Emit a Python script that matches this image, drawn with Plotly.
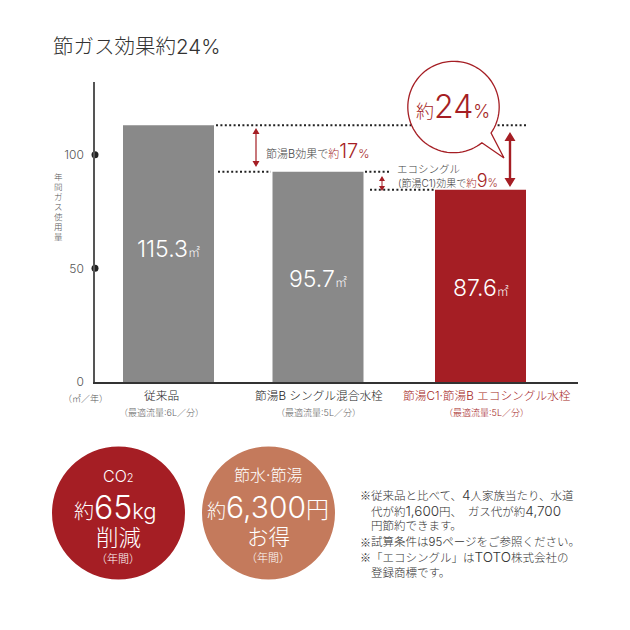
import numpy as np
import plotly.graph_objects as go

# bars, heights as read against the drawn axis (the printed labels differ a little)
categories = ["従来品", "節湯B シングル混合水栓", "節湯C1·節湯B エコシングル水栓"]
bar_heights = [113.0, 92.5, 84.6]
bar_values = ["115.3", "95.7", "87.6"]
flow_labels = ["（最適流量:6L／分）", "（最適流量:5L／分）", "（最適流量:5L／分）"]
y_ticks = [0, 50, 100]

note_lines = [
    "従来品と比べて、<D>4</D>人家族当たり、水道",
    "代が約<D>1,600</D>円、　ガス代が約<D>4,700</D>",
    "円節約できます。",
    "試算条件は95ページをご参照ください。",
    "「エコシングル」は<D>TOTO</D>株式会社の",
    "登録商標です。",
]
note_marks = [True, False, False, True, True, False]

SIZE = 630
PAGE_H = 623  # the photographed page comes out about 1% short, so y is scaled to suit
RED = "#A51E24"
GREY = "#898989"
TERRA = "#C47A5C"
TXT = "#444444"
FONT = "Inter, Noto Sans CJK JP, sans-serif"
FONT_JP = "Noto Sans CJK JP, sans-serif"

bar_x = [168.5, 318, 480.5]
bar_colors = [GREY, GREY, RED]
bar_label_y = [249, 279, 288]
label_x = [162, 318.5, 486.5]
label_colors = ["#222222", "#222222", RED]
flow_colors = ["#666666", "#666666", RED]


def px(x):
    return x / SIZE


def py(y):
    return 1 - y / PAGE_H


def span(text, size, color):
    return f'<span style="font-size:{size}px;color:{color}">{text}</span>'


annotations = []


def note(text, x, y, size=10, color=TXT, anchor="center", family=FONT):
    annotations.append(dict(text=text, x=px(x), y=py(y), xref="paper", yref="paper",
                            xanchor=anchor, yanchor="middle", showarrow=False,
                            font=dict(size=size, color=color, family=family, weight=300)))


def double_arrow(x, y0, y1, head_w, head_l, shaft):
    # closed outline of a two-headed vertical arrow
    pts = [(x, y0), (x + head_w, y0 + head_l), (x + shaft, y0 + head_l), (x + shaft, y1 - head_l),
           (x + head_w, y1 - head_l), (x, y1), (x - head_w, y1 - head_l), (x - shaft, y1 - head_l),
           (x - shaft, y0 + head_l), (x - head_w, y0 + head_l)]
    path = "M " + " L ".join(f"{px(a):.5f},{py(b):.5f}" for a, b in pts) + " Z"
    return dict(type="path", path=path, xref="paper", yref="paper", fillcolor=RED, line=dict(width=0))


def dotted(x0, x1, value):
    return dict(type="line", xref="paper", yref="y", x0=px(x0), x1=px(x1), y0=value, y1=value,
                line=dict(color="#222222", width=2, dash="2px,2.4px"))


def big_circle(cx, cy, r, color):
    return dict(type="circle", xref="paper", yref="paper", x0=px(cx - r), x1=px(cx + r),
                y0=py(cy - r), y1=py(cy + r), fillcolor=color, line=dict(width=0))


# speech bubble outline around the 24% text
cx, cy, r = 453.5, 107, 45.7
angles = np.radians(np.linspace(34.7, 51.6 - 360, 90))
pts = [(504, 158)] + [(cx + r * np.cos(a), cy + r * np.sin(a)) for a in angles]
bubble_path = "M " + " L ".join(f"{px(a):.5f},{py(b):.5f}" for a, b in pts) + " Z"

shapes = [
    dotted(216, 528, bar_heights[0]),
    dotted(218, 271, bar_heights[1]),
    dotted(365, 391, bar_heights[1]),
    dotted(370, 434, bar_heights[2]),
    dict(type="path", path=bubble_path, xref="paper", yref="paper",
         fillcolor="white", line=dict(color=RED, width=1.3)),
    double_arrow(256, 128, 167, 3.5, 6, 0.6),
    double_arrow(382, 176, 191, 3, 5, 0.5),
    double_arrow(510, 132, 187, 5.5, 9, 1.2),
    big_circle(118.5, 513, 66.5, RED),
    big_circle(268.5, 513, 66.5, TERRA),
]

# title and axis captions
note("節ガス効果約24%", 51, 47, size=20.5, color="#333333", anchor="left")
note("（㎡／年）", 86, 398, size=9, color="#555555")
for i, ch in enumerate("年間ガス使用量"):
    note(ch, 58, 177 + i * 10, size=8.5, color="#555555")

# labels under the bars
for i, name in enumerate(categories):
    note(name, label_x[i], 396, size=11.7, color=label_colors[i])
    note(flow_labels[i], label_x[i], 412, size=9, color=flow_colors[i])

# values inside the bars
for i, value in enumerate(bar_values):
    note(value + span("㎡", 12, "white"), bar_x[i], bar_label_y[i], size=23, color="white")

# callouts
note("節湯B効果で" + span("約", 11, RED) + span("17", 20, RED) + span("%", 12, RED), 264, 151, size=11, anchor="left")
note("エコシングル", 395, 169, size=10.5, anchor="left")
note("(節湯C1)効果で" + span("約", 10.5, RED) + span("9", 18, RED) + span("%", 11, RED), 396, 181, size=10, anchor="left")
note(span("約", 18, RED) + span("24", 32, RED) + span("%", 18, RED), 453, 106, size=18, color=RED)

# circles
note("CO" + span("2", 11, "white"), 118, 476, size=16, color="white")
note(span("約", 20, "white") + span("65", 32, "white") + span("kg", 22, "white"), 115, 507, size=20, color="white")
note("削減", 118, 537, size=22.5, color="white")
note("（年間）", 118, 559, size=11, color="white")
note("節水·節湯", 268, 475, size=16, color="white")
note(span("約", 19, "white") + span("6,300", 30, "white") + span("円", 23, "white"), 268, 507, size=19, color="white")
note("お得", 268, 537, size=21.5, color="white")
note("（年間）", 268, 558, size=11, color="white")

# footnotes, the digits and latin letters run larger than the kana
for i, line in enumerate(note_lines):
    if note_marks[i]:
        note("※", 358, 495 + i * 15.6, size=11, color="#333333", anchor="left", family=FONT_JP)
    line = line.replace("<D>", '<span style="font-size:13.5px">').replace("</D>", "</span>")
    note(line, 369, 495 + i * 15.6, size=11.5, color="#333333", anchor="left")

fig = go.Figure()
fig.add_trace(go.Bar(x=bar_x, y=bar_heights, width=91, marker=dict(color=bar_colors, line=dict(width=0))))
fig.add_trace(go.Scatter(x=[95] * 2, y=y_ticks[1:], mode="markers", cliponaxis=False,
                         marker=dict(color="#222222", size=7)))

fig.update_layout(
    width=SIZE, height=SIZE, margin=dict(l=0, r=0, t=0, b=0),
    paper_bgcolor="white", plot_bgcolor="white", showlegend=False,
    font=dict(family=FONT), shapes=shapes, annotations=annotations,
)
fig.update_xaxes(domain=[px(95), px(578)], range=[95, 578], showgrid=False, zeroline=False,
                 showticklabels=False, ticks="", showline=True, linecolor="#333333", linewidth=1.5,
                 anchor="y")
fig.update_yaxes(domain=[py(382), py(82)], range=[0, 132], showgrid=False, zeroline=False,
                 tickvals=y_ticks, ticks="", ticklabelstandoff=7, showline=True,
                 linecolor="#555555", linewidth=1.5, anchor="x",
                 tickfont=dict(size=12, color="#555555", family=FONT, weight=300))

# page default margin would push the fixed-size figure off, so drop it
fig.write_html("out.html", config=dict(displayModeBar=False),
               post_script="document.body.style.margin='0';document.documentElement.style.overflow='hidden';window.scrollTo(0,0);")
